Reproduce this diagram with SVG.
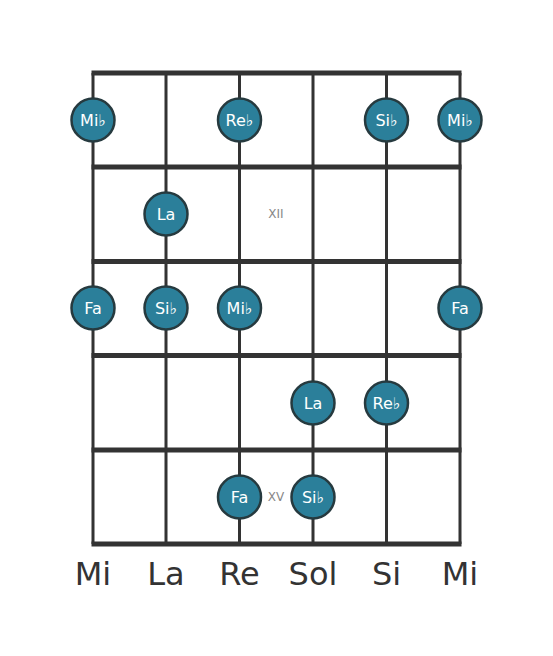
<svg xmlns="http://www.w3.org/2000/svg" width="553" height="656" viewBox="0 0 553 656">
<style>
.str{stroke:#333;stroke-width:3}
.fret{stroke:#333;stroke-width:5}
.dot circle{fill:#2b7f9a;stroke:#263a3f;stroke-width:2.5}
.dot text{fill:#fff;font-family:"DejaVu Sans",sans-serif;font-size:16px;text-anchor:middle;dominant-baseline:central}
.pos{fill:#888;font-family:"DejaVu Sans",sans-serif;font-size:12px;text-anchor:middle;dominant-baseline:central}
.name{fill:#333;font-family:"DejaVu Sans",sans-serif;font-size:32px;text-anchor:middle}
</style>
<rect width="553" height="656" fill="#fff"/>
<g id="grid">
<line class="str" x1="93" y1="73" x2="93" y2="544"/>
<line class="str" x1="166" y1="73" x2="166" y2="544"/>
<line class="str" x1="239.5" y1="73" x2="239.5" y2="544"/>
<line class="str" x1="313" y1="73" x2="313" y2="544"/>
<line class="str" x1="386.5" y1="73" x2="386.5" y2="544"/>
<line class="str" x1="460" y1="73" x2="460" y2="544"/>
<line class="fret" x1="91.5" y1="73" x2="461.5" y2="73"/>
<line class="fret" x1="91.5" y1="167" x2="461.5" y2="167"/>
<line class="fret" x1="91.5" y1="261.5" x2="461.5" y2="261.5"/>
<line class="fret" x1="91.5" y1="355.5" x2="461.5" y2="355.5"/>
<line class="fret" x1="91.5" y1="450" x2="461.5" y2="450"/>
<line class="fret" x1="91.5" y1="544" x2="461.5" y2="544"/>
</g>
<text class="pos" x="276" y="214">XII</text>
<text class="pos" x="276" y="497">XV</text>
<g id="n1" class="dot"><circle cx="93" cy="120" r="21.5"/><text x="93" y="120">Mi♭</text></g>
<g id="n2" class="dot"><circle cx="239.5" cy="120" r="21.5"/><text x="239.5" y="120">Re♭</text></g>
<g id="n3" class="dot"><circle cx="386.5" cy="120" r="21.5"/><text x="386.5" y="120">Si♭</text></g>
<g id="n4" class="dot"><circle cx="460" cy="120" r="21.5"/><text x="460" y="120">Mi♭</text></g>
<g id="n5" class="dot"><circle cx="166" cy="214" r="21.5"/><text x="166" y="214">La</text></g>
<g id="n6" class="dot"><circle cx="93" cy="308" r="21.5"/><text x="93" y="308">Fa</text></g>
<g id="n7" class="dot"><circle cx="166" cy="308" r="21.5"/><text x="166" y="308">Si♭</text></g>
<g id="n8" class="dot"><circle cx="239.5" cy="308" r="21.5"/><text x="239.5" y="308">Mi♭</text></g>
<g id="n9" class="dot"><circle cx="460" cy="308" r="21.5"/><text x="460" y="308">Fa</text></g>
<g id="n10" class="dot"><circle cx="313" cy="403" r="21.5"/><text x="313" y="403">La</text></g>
<g id="n11" class="dot"><circle cx="386.5" cy="403" r="21.5"/><text x="386.5" y="403">Re♭</text></g>
<g id="n12" class="dot"><circle cx="239.5" cy="497" r="21.5"/><text x="239.5" y="497">Fa</text></g>
<g id="n13" class="dot"><circle cx="313" cy="497" r="21.5"/><text x="313" y="497">Si♭</text></g>
<g id="names">
<text class="name" x="93" y="585">Mi</text>
<text class="name" x="166" y="585">La</text>
<text class="name" x="239.5" y="585">Re</text>
<text class="name" x="313" y="585">Sol</text>
<text class="name" x="386.5" y="585">Si</text>
<text class="name" x="460" y="585">Mi</text>
</g>
</svg>
